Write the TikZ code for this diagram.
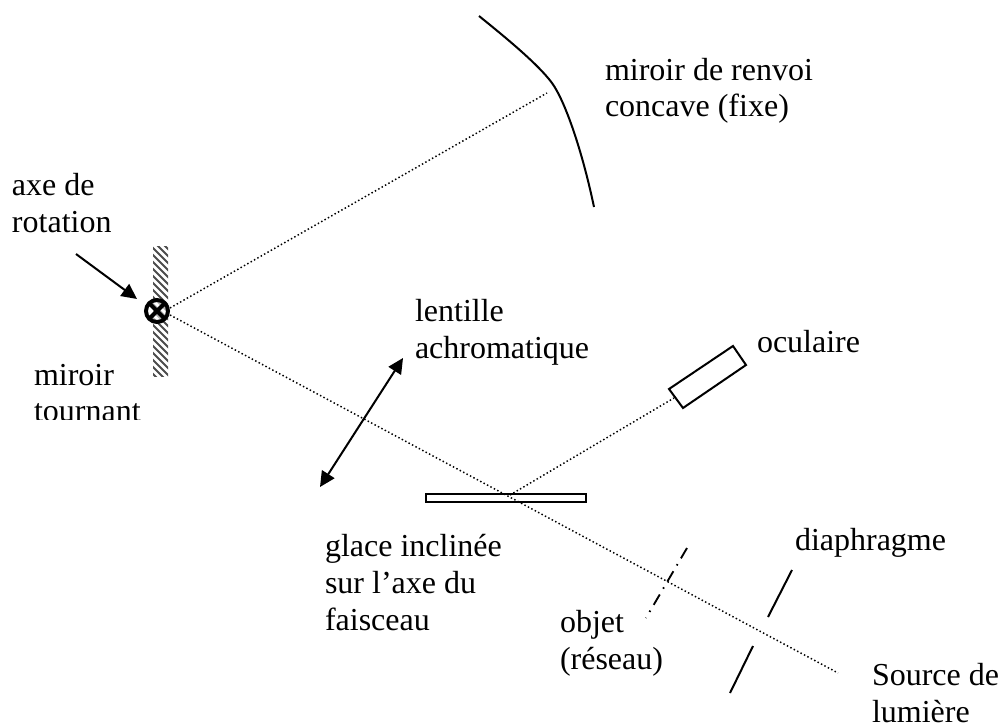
\documentclass[tikz,border=0pt]{standalone}
\usepackage{fontspec}
\setmainfont{Liberation Serif}
\usetikzlibrary{arrows.meta}
\tikzset{
  px/.style={x=0.75pt,y=-0.75pt},
  lab/.style={inner sep=0pt,outer sep=0pt,anchor=base west,align=left,font=\fontsize{24}{27.5}\selectfont},
  ray/.style={line width=1.1pt,dash pattern=on 1.1pt off 1.8pt},
  solidline/.style={line width=1.5pt,black},
  pointer/.style={line width=1.5pt,-{Triangle[length=11.5pt,width=11pt]}},
  twoway/.style={line width=1.5pt,{Triangle[length=11.5pt,width=11pt]}-{Triangle[length=11.5pt,width=11pt]}},
}
\begin{document}
\begin{tikzpicture}[px]
\useasboundingbox (0,0) rectangle (1000,724);
\fill[white] (0,0) rectangle (1000,724);
% named points
\coordinate (curveA) at (479,16);
\coordinate (curveM) at (552,83);
\coordinate (curveB) at (594,207);
\coordinate (rayEnd) at (547,93);
\coordinate (axis) at (157,311);
\coordinate (hit) at (510,495);
\coordinate (srcEnd) at (838,673);
\coordinate (ocuIn) at (674,398);
\coordinate (arrowStart) at (76,254);
\coordinate (arrowEnd) at (137,299);
\coordinate (lensA) at (320,487);
\coordinate (lensB) at (403,358);
\coordinate (objA) at (646,618);
\coordinate (objB) at (687,548);
\coordinate (diaA) at (792,570);
\coordinate (diaB) at (768,617);
\coordinate (diaC) at (753,646);
\coordinate (diaD) at (730,693);
% hatched mirror
\begin{scope}
\clip (153,246) rectangle (168,376);
\foreach \k in {0,...,24}{
  \draw[line width=1.5pt,black!70] (145,{226+7*\k}) -- +(30,30);
}
\end{scope}
% rays
\draw[ray] (axis) ++(13,-3) -- (rayEnd);
\draw[ray] (axis) ++(13,4) -- (srcEnd);
\draw[ray] (hit) -- (ocuIn);
% concave mirror
\draw[solidline] (curveA) .. controls (505,37) and (538,64) .. (curveM) .. controls (565,101) and (582,150) .. (curveB);
% axis symbol
\fill[white,opacity=0.6] (axis) circle (11);
\draw[line width=3pt] (axis) circle (11);
\draw[line width=3pt] (axis) ++(-8,-8) -- ++(16,16) ++(-16,0) -- ++(16,-16);
% arrows
\draw[pointer] (arrowStart) -- (arrowEnd);
\draw[twoway] (lensA) -- (lensB);
% glass and eyepiece
\draw[solidline] (426,494) rectangle (586,502);
\draw[solidline] (669,389) -- (733,346) -- (746,365) -- (683,408) -- cycle;
% object and diaphragm
\draw[line width=1.4pt,dash pattern=on 9pt off 5pt on 1.2pt off 5pt] (objB) -- (objA);
\draw[solidline] (diaA) -- (diaB);
\draw[solidline] (diaC) -- (diaD);
% labels
\node[lab] (n1) at (605,117) {miroir de renvoi\\concave (fixe)};
\node[lab] (n2) at (12,232) {axe de\\rotation};
\node[lab] (n3) at (34,385) {miroir};
\begin{scope}
\clip (0,395) rectangle (200,419);
\node[lab] (n3b) at (34,421.5) {tournant};
\end{scope}
\node[lab] (n4) at (415,358) {lentille\\achromatique};
\node[lab] (n5) at (757,352) {oculaire};
\node[lab] (n6) at (325,630) {glace inclinée\\sur l’axe du\\faisceau};
\node[lab] (n7) at (795,550) {diaphragme};
\node[lab] (n8) at (560,669) {objet\\(réseau)};
\node[lab] (n9) at (872,722) {Source de\\lumière};
\end{tikzpicture}
\end{document}
